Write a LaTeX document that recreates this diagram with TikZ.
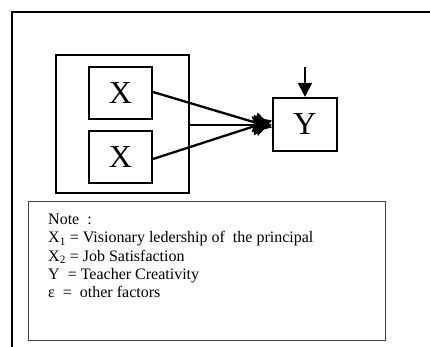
\documentclass[tikz,border=0pt]{standalone}
\usepackage{fontspec}
\setmainfont{Liberation Serif}
\usetikzlibrary{arrows.meta}
\begin{document}
\begin{tikzpicture}[x=1pt,y=-1pt,
  varbox/.style={draw,line width=2.1pt,inner sep=0pt,font=\fontsize{32}{32}\selectfont},
  link/.style={line width=2.3pt,-{Triangle[length=18pt,width=20pt]}},
  frame/.style={line width=2pt}]
\useasboundingbox (0,0) rectangle (430,347);
% outer frame: top and left edges
\draw[frame] (12,347) -- (12,12) -- (430,12);
% group of independent variables
\node[draw,line width=2.1pt,minimum width=133pt,minimum height=138pt,inner sep=0pt] (grp) at (122.5,124) {};
\node[varbox,minimum width=63pt,minimum height=52pt] (x1) at (120.5,93) {X};
\node[varbox,minimum width=63pt,minimum height=52pt] (x2) at (120.5,157) {X};
\node[varbox,minimum width=64pt,minimum height=53pt] (y) at (305,124.5) {Y};
\coordinate (eps) at (305,67);
% paths into Y
\draw[link] (x1.east |- 0,92) -- ([yshift=-3pt]y.west);
\draw[link] (grp.east |- 0,125) -- (y.west |- 0,125);
\draw[link] (x2.east |- 0,159) -- ([yshift=4pt]y.west);
\draw[line width=2pt,-{Triangle[length=14pt,width=14pt]}] (eps) -- (y.north);
% legend
\node[draw=black!75,line width=0.9pt,minimum width=357pt,minimum height=139pt,inner sep=0pt] (note) at (206.5,270.5) {};
\node[anchor=north west,inner sep=0pt,align=left,font=\fontsize{16}{18.3}\selectfont] (legend) at (48,214)
  {Note \ :\\
   X\textsubscript{1} = Visionary ledership of \ the principal\\
   X\textsubscript{2} = Job Satisfaction\\
   Y \ = Teacher Creativity\\
   ε \ = \ other factors};
\end{tikzpicture}
\end{document}
